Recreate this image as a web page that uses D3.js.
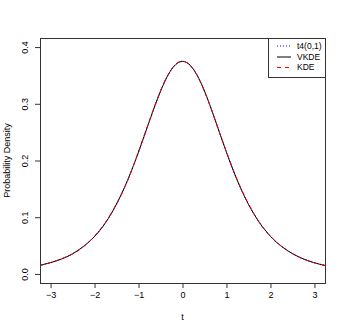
<!DOCTYPE html>
<html>
<head>
<meta charset="utf-8">
<script src="https://cdn.jsdelivr.net/npm/d3@7"></script>
<style>
  body { margin: 0; background: #fff; }
  text { font-family: "Liberation Sans", Arial, sans-serif; fill: #000; }
</style>
</head>
<body>
<div id="chart"></div>
<script>
var tVals = [-3.25, -3.0, -2.75, -2.5, -2.25, -2.0, -1.75, -1.5, -1.25, -1.0, -0.75, -0.5, -0.25,
  0, 0.25, 0.5, 0.75, 1.0, 1.25, 1.5, 1.75, 2.0, 2.25, 2.5, 2.75, 3.0, 3.25];

// t4(0,1) density
var t4Vals = [0.0148, 0.0197, 0.0264, 0.0357, 0.0485, 0.0663, 0.0905, 0.1229, 0.1644, 0.2147, 0.2699, 0.3223, 0.3607,
  0.3750, 0.3607, 0.3223, 0.2699, 0.2147, 0.1644, 0.1229, 0.0905, 0.0663, 0.0485, 0.0357, 0.0264, 0.0197, 0.0148];

// variable kernel estimate
var vkdeVals = [0.0150, 0.0199, 0.0263, 0.0354, 0.0486, 0.0660, 0.0903, 0.1232, 0.1650, 0.2150, 0.2700, 0.3220, 0.3605,
  0.3748, 0.3608, 0.3224, 0.2696, 0.2144, 0.1642, 0.1227, 0.0906, 0.0664, 0.0487, 0.0358, 0.0264, 0.0196, 0.0146];

// fixed kernel estimate
var kdeVals = [0.0146, 0.0201, 0.0268, 0.0352, 0.0480, 0.0668, 0.0912, 0.1240, 0.1638, 0.2160, 0.2710, 0.3230, 0.3612,
  0.3752, 0.3600, 0.3218, 0.2690, 0.2150, 0.1650, 0.1235, 0.0900, 0.0660, 0.0490, 0.0360, 0.0262, 0.0195, 0.0150];

var xTicks = [-3, -2, -1, 0, 1, 2, 3];
var yTicks = [0.0, 0.1, 0.2, 0.3, 0.4];
var legendLabels = ["t4(0,1)", "VKDE", "KDE"];

var svgWidth = 346, svgHeight = 332;
var box = { left: 40, right: 325, top: 38, bottom: 283 };

var svg = d3.select("#chart").append("svg")
  .attr("width", svgWidth)
  .attr("height", svgHeight);

// R style 4% padding on both axes
var x = d3.scaleLinear().domain([-3.24, 3.24]).range([box.left, box.right]);
var y = d3.scaleLinear().domain([-0.016, 0.416]).range([box.bottom, box.top]);

svg.append("clipPath").attr("id", "clip")
  .append("rect")
  .attr("x", box.left).attr("y", box.top)
  .attr("width", box.right - box.left).attr("height", box.bottom - box.top);

function series(vals) {
  return tVals.map(function (t, i) { return { t: t, v: vals[i] }; });
}

var line = d3.line()
  .x(function (d) { return x(d.t); })
  .y(function (d) { return y(d.v); })
  .curve(d3.curveNatural);

var plot = svg.append("g").attr("clip-path", "url(#clip)");

plot.append("path")
  .datum(series(t4Vals))
  .attr("fill", "none")
  .attr("stroke", "#0000ff")
  .attr("stroke-width", 1)
  .attr("stroke-dasharray", "1,2")
  .attr("d", line);

plot.append("path")
  .datum(series(vkdeVals))
  .attr("fill", "none")
  .attr("stroke", "#000")
  .attr("stroke-width", 1)
  .attr("d", line);

plot.append("path")
  .datum(series(kdeVals))
  .attr("fill", "none")
  .attr("stroke", "#ff0000")
  .attr("stroke-width", 1)
  .attr("stroke-dasharray", "4,4")
  .attr("d", line);

// x axis
var xAxis = svg.append("g")
  .attr("transform", "translate(0," + box.bottom + ")")
  .call(d3.axisBottom(x).tickValues(xTicks).tickSize(5).tickPadding(4)
    .tickFormat(function (d) { return d < 0 ? "\u2212" + Math.abs(d) : d; }));
xAxis.select(".domain").remove();
xAxis.selectAll("line").attr("stroke", "#333");
xAxis.selectAll("text").attr("font-size", 9).attr("font-family", "Liberation Sans, Arial, sans-serif");

// y axis, labels turned like R
var yAxis = svg.append("g")
  .attr("transform", "translate(" + box.left + ",0)")
  .call(d3.axisLeft(y).tickValues(yTicks).tickSize(5).tickFormat(d3.format(".1f")));
yAxis.select(".domain").remove();
yAxis.selectAll("line").attr("stroke", "#333");
yAxis.selectAll("text")
  .attr("font-size", 9)
  .attr("font-family", "Liberation Sans, Arial, sans-serif")
  .attr("x", null).attr("dy", null)
  .attr("text-anchor", "middle")
  .attr("transform", "translate(-12,0) rotate(-90)");

// plot box
svg.append("rect")
  .attr("x", box.left + 0.5).attr("y", box.top + 0.5)
  .attr("width", box.right - box.left).attr("height", box.bottom - box.top)
  .attr("fill", "none").attr("stroke", "#333").attr("stroke-width", 1);

// axis titles
svg.append("text")
  .attr("x", (box.left + box.right) / 2).attr("y", 320)
  .attr("text-anchor", "middle").attr("font-size", 9)
  .text("t");

svg.append("text")
  .attr("transform", "translate(10," + (box.top + box.bottom) / 2 + ") rotate(-90)")
  .attr("text-anchor", "middle").attr("font-size", 9)
  .text("Probability Density");

// legend
var legend = svg.append("g");
legend.append("rect")
  .attr("x", 268.5).attr("y", box.top + 0.5)
  .attr("width", box.right - 268).attr("height", 39)
  .attr("fill", "#fff").attr("stroke", "#333");

var legendStyles = [
  { color: "#0000ff", dash: "1,2" },
  { color: "#000", dash: null },
  { color: "#ff0000", dash: "4,4" }
];
var legendY = [46, 57, 67.5];

legendLabels.forEach(function (lab, i) {
  legend.append("line")
    .attr("x1", 277).attr("x2", 291)
    .attr("y1", legendY[i]).attr("y2", legendY[i])
    .attr("stroke", legendStyles[i].color)
    .attr("stroke-dasharray", legendStyles[i].dash);
  legend.append("text")
    .attr("x", 297).attr("y", legendY[i])
    .attr("dy", "0.35em").attr("font-size", 8.5)
    .text(lab);
});
</script>
</body>
</html>
